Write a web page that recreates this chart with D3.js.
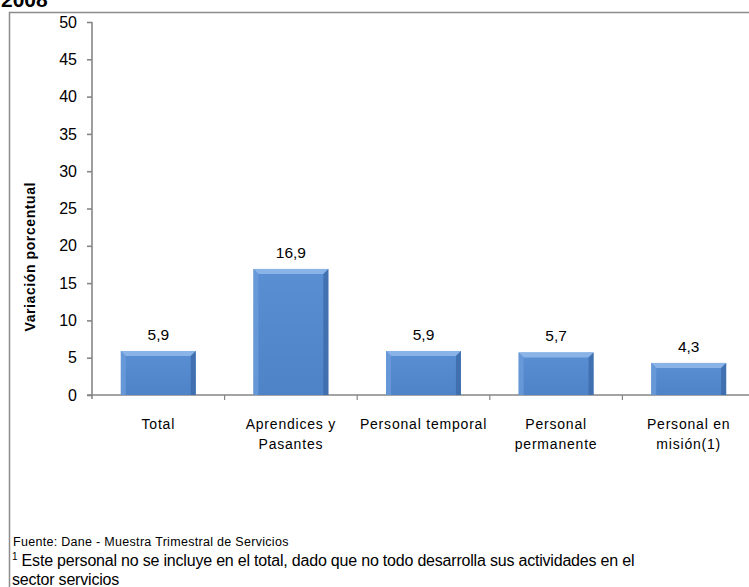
<!DOCTYPE html>
<html><head><meta charset="utf-8">
<script src="https://cdn.jsdelivr.net/npm/d3@7"></script>
<style>body{margin:0;background:#fff}svg{display:block;font-family:"Liberation Sans",Arial,sans-serif}</style>
</head><body>
<script>
const categories = [["Total"],["Aprendices y","Pasantes"],["Personal temporal"],["Personal","permanente"],["Personal en","misión(1)"]];
const values = [5.9, 16.9, 5.9, 5.7, 4.3];
const labels = ["5,9","16,9","5,9","5,7","4,3"];
const yTicks = [0,5,10,15,20,25,30,35,40,45,50];

const W=749,H=587;
const svg=d3.select("body").append("svg").attr("width",W).attr("height",H);
const defs=svg.append("defs");
const g1=defs.append("linearGradient").attr("id","bg").attr("x1",0).attr("x2",0).attr("y1",0).attr("y2",1);
g1.append("stop").attr("offset","0%").attr("stop-color","#5a8fd4");
g1.append("stop").attr("offset","100%").attr("stop-color","#4e83c8");

// frame
svg.append("rect").attr("x",9.5).attr("y",12.5).attr("width",760).attr("height",600).attr("fill","none").attr("stroke","#8c8c8c").attr("stroke-width",1.5);
// title partially visible
svg.append("text").attr("x",1).attr("y",7).attr("font-size",21).attr("font-weight","bold").text("2008");

const x0=92, x1=92+5*132.6, y0=395, y1=22;
const x=d3.scaleBand().domain(d3.range(categories.length)).range([x0,x1]).paddingInner(0.435).paddingOuter(0.2175);
const y=d3.scaleLinear().domain([0,50]).range([y0,y1]);

// y axis
const ya=svg.append("g").attr("transform",`translate(${x0},0)`).call(d3.axisLeft(y).tickValues(yTicks).tickSize(5).tickPadding(10));
ya.selectAll("path,line").attr("stroke","#868686").attr("stroke-width",1.6);
ya.select(".domain").attr("d",`M0,${y1}V${y0+4}`);
ya.selectAll("text").attr("font-size",16).attr("font-family","Liberation Sans,Arial,sans-serif").attr("fill","#000");

// x axis line and ticks
svg.append("line").attr("x1",x0-5).attr("x2",W).attr("y1",y0).attr("y2",y0).attr("stroke","#868686").attr("stroke-width",1.6);
svg.selectAll(".xt").data(d3.range(1,5)).enter().append("line")
  .attr("x1",d=>x0+d*132.6).attr("x2",d=>x0+d*132.6).attr("y1",y0).attr("y2",y0+5).attr("stroke","#868686").attr("stroke-width",1.2);

// bars with bevel
const bw=x.bandwidth(), bev=5;
const bars=svg.selectAll(".bar").data(values).enter().append("g");
bars.append("rect").attr("x",(d,i)=>x(i)).attr("y",d=>y(d)).attr("width",bw).attr("height",d=>y0-y(d)).attr("fill","url(#bg)");
bars.append("path").attr("d",(d,i)=>{const L=x(i),R=L+bw,T=y(d);return `M${L},${T}H${R}L${R-bev},${T+bev}H${L+bev}Z`;}).attr("fill","#8ab4e8");
bars.append("path").attr("d",(d,i)=>{const L=x(i),T=y(d);return `M${L},${T}L${L+bev},${T+bev}V${y0}H${L}Z`;}).attr("fill","#6c9bd9").attr("opacity",0.8);
bars.append("path").attr("d",(d,i)=>{const R=x(i)+bw,T=y(d);return `M${R},${T}L${R-bev},${T+bev}V${y0}H${R}Z`;}).attr("fill","#3c6aa8").attr("opacity",0.8);

// value labels
svg.selectAll(".vl").data(values).enter().append("text")
  .attr("x",(d,i)=>x(i)+bw/2).attr("y",d=>y(d)-11).attr("text-anchor","middle").attr("font-size",15.5).text((d,i)=>labels[i]);

// category labels
categories.forEach((lines,i)=>{
  lines.forEach((t,j)=>{
    svg.append("text").attr("x",x(i)+bw/2).attr("y",429+j*20).attr("text-anchor","middle")
      .attr("font-size",14).attr("letter-spacing","0.8").text(t);
  });
});

// y title
svg.append("text").attr("transform","translate(35,257) rotate(-90)").attr("text-anchor","middle")
  .attr("font-size",14).attr("font-weight","bold").attr("textLength",149).attr("lengthAdjust","spacing").text("Variación porcentual");

// footer
svg.append("text").attr("x",13).attr("y",546).attr("font-size",12.5).attr("letter-spacing","0.3").text("Fuente: Dane - Muestra Trimestral de Servicios");
const fn=svg.append("text").attr("x",12).attr("y",566).attr("font-size",16).attr("letter-spacing","-0.2");
fn.append("tspan").attr("font-size",10).attr("dy",-6).text("1");
fn.append("tspan").attr("dy",6).text(" Este personal no se incluye en el total,  dado que no todo desarrolla sus actividades en el");
svg.append("text").attr("x",12).attr("y",585).attr("font-size",16).attr("letter-spacing","-0.2").text("sector servicios");
</script>
</body></html>
